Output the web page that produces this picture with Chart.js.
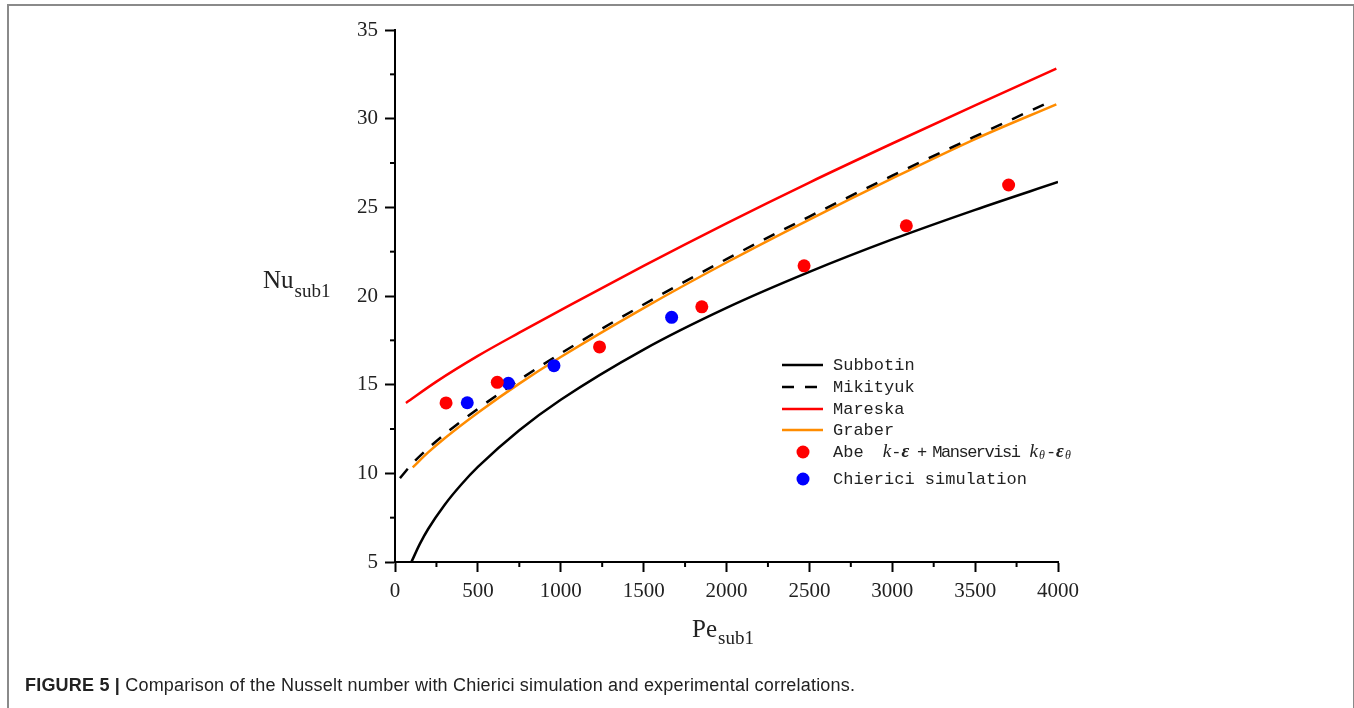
<!DOCTYPE html>
<html>
<head>
<meta charset="utf-8">
<script src="https://cdn.jsdelivr.net/npm/chart.js@4.4.0/dist/chart.umd.min.js"></script>
<style>
  html, body { margin: 0; padding: 0; background: #fff; }
  #wrap { position: relative; width: 1354px; height: 708px; overflow: hidden; }
  #frame { position: absolute; left: 7px; top: 4px; width: 1348px; height: 760px;
           border: 2px solid #8a8a8a; box-sizing: border-box; }
  #nuChart { position: absolute; left: 0; top: 0; }
  #caption { position: absolute; left: 25px; top: 675px; font: 18px "Liberation Sans", Arial, sans-serif;
             letter-spacing: 0.2px; color: #222; white-space: nowrap; }
  #caption b { font-weight: bold; }
</style>
</head>
<body>
<div id="wrap">
  <div id="frame"></div>
  <canvas id="nuChart" width="1354" height="708"></canvas>
  <div id="caption"><b>FIGURE 5 |</b> Comparison of the Nusselt number with Chierici simulation and experimental correlations.</div>
</div>
<script>
// Data (Pe_sub1 -> Nu_sub1)
const peSubbotin = [100, 150, 200, 300, 400, 500, 750, 1000, 1500, 2000, 2500, 3000, 3500, 4000];
const nuSubbotin = [5.02, 6.02, 6.86, 8.23, 9.37, 10.36, 12.43, 14.15, 16.98, 19.33, 21.36, 23.19, 24.86, 26.43];

const peMikityuk = [30, 100, 200, 300, 500, 750, 1000, 1500, 2000, 2500, 3000, 3500, 3960];
const nuMikityuk = [9.73, 10.50, 11.41, 12.21, 13.64, 15.27, 16.76, 19.52, 22.08, 24.48, 26.79, 29.00, 30.99];

const peMareska = [66, 250, 500, 750, 1000, 1500, 2000, 2500, 3000, 3500, 3990];
const nuMareska = [13.97, 15.17, 16.62, 17.93, 19.2, 21.7, 24.1, 26.4, 28.6, 30.75, 32.82];

const peGraber = [107, 200, 300, 500, 750, 1000, 1500, 2000, 2500, 3000, 3500, 3990];
const nuGraber = [10.34, 11.18, 11.98, 13.42, 15.06, 16.56, 19.32, 21.89, 24.31, 26.63, 28.85, 30.81];

const peAbe = [308, 617, 1234, 1851, 2468, 3085, 3702];
const nuAbe = [13.97, 15.13, 17.13, 19.39, 21.70, 23.96, 26.26];

const peChierici = [436, 684, 959, 1669];
const nuChierici = [13.98, 15.08, 16.07, 18.80];

const xTicks = [0, 500, 1000, 1500, 2000, 2500, 3000, 3500, 4000];
const yTicks = [5, 10, 15, 20, 25, 30, 35];

function pairs(xs, ys) {
  return xs.map((x, i) => ({ x: x, y: ys[i] }));
}

// legend label pieces: [text, font, baseline shift, letter spacing, extra gap after]
const MONO = '17px "Liberation Mono", "DejaVu Sans Mono", monospace';
const ITAL = 'italic 19px "Liberation Serif", serif';
const BITAL = 'italic bold 19px "Liberation Serif", serif';
const SUB = 'italic 12px "Liberation Serif", serif';
const legendPieces = {
  Abe: [
    ['Abe ', MONO, 0, 0, 9], ['k', ITAL, 0, 0, 0], ['-', MONO, 0, 0, 0], ['\u03b5', BITAL, 0, 0, 0],
    [' + ', MONO, 0, -2.5, 0], ['Manservisi', MONO, 0, -1.5, 0], [' ', MONO, 0, 0, 0],
    ['k', ITAL, 0, 0, 1], ['\u03b8', SUB, 4, 0, 1], ['-', MONO, 0, 0, 0],
    ['\u03b5', BITAL, 0, 0, 1], ['\u03b8', SUB, 4, 0, 0]
  ]
};

// minor ticks + axis titles + legend
const extras = {
  id: 'extras',
  afterDraw(chart) {
    const ctx = chart.ctx;
    const xs = chart.scales.x, ys = chart.scales.y;
    const area = chart.chartArea;
    ctx.save();
    ctx.strokeStyle = '#000';
    ctx.lineWidth = 2;
    // minor ticks halfway between the labelled ones
    for (let i = 0; i < xTicks.length - 1; i++) {
      const px = xs.getPixelForValue((xTicks[i] + xTicks[i + 1]) / 2);
      ctx.beginPath(); ctx.moveTo(px, area.bottom); ctx.lineTo(px, area.bottom + 5); ctx.stroke();
    }
    for (let i = 0; i < yTicks.length - 1; i++) {
      const py = ys.getPixelForValue((yTicks[i] + yTicks[i + 1]) / 2);
      ctx.beginPath(); ctx.moveTo(area.left, py); ctx.lineTo(area.left - 5, py); ctx.stroke();
    }

    // axis titles with subscripts
    ctx.fillStyle = '#222';
    ctx.textBaseline = 'alphabetic';
    ctx.textAlign = 'left';
    ctx.font = '25px "Liberation Serif", serif';
    const nuW = ctx.measureText('Nu').width;
    ctx.fillText('Nu', 263, 288);
    ctx.font = '19px "Liberation Serif", serif';
    ctx.fillText('sub1', 263 + nuW + 1, 297);

    ctx.font = '25px "Liberation Serif", serif';
    const peW = ctx.measureText('Pe').width;
    ctx.fillText('Pe', 692, 637);
    ctx.font = '19px "Liberation Serif", serif';
    ctx.fillText('sub1', 692 + peW + 1, 644);

    // legend
    const rowY = [365, 387, 409, 430, 452, 479];
    chart.data.datasets.forEach((ds, i) => {
      const y = rowY[i];
      if (ds.showLine) {
        ctx.strokeStyle = ds.borderColor;
        ctx.lineWidth = 2.5;
        ctx.setLineDash(ds.borderDash || []);
        ctx.beginPath(); ctx.moveTo(782, y); ctx.lineTo(823, y); ctx.stroke();
        ctx.setLineDash([]);
      } else {
        ctx.fillStyle = ds.backgroundColor;
        ctx.beginPath(); ctx.arc(803, y, 6.5, 0, Math.PI * 2); ctx.fill();
      }
      ctx.fillStyle = '#222';
      ctx.textBaseline = 'middle';
      const pieces = legendPieces[ds.label] || [[ds.label, MONO, 0, 0, 0]];
      let x = 833;
      pieces.forEach(p => {
        ctx.font = p[1];
        ctx.letterSpacing = p[3] + 'px';
        ctx.fillText(p[0], x, y + p[2]);
        x += ctx.measureText(p[0]).width + p[4];
      });
      ctx.letterSpacing = '0px';
    });
    ctx.restore();
  }
};

const lineStyle = {
  showLine: true, pointRadius: 0, borderWidth: 2.5, fill: false,
  cubicInterpolationMode: 'monotone', order: 2
};

new Chart(document.getElementById('nuChart'), {
  type: 'scatter',
  data: {
    datasets: [
      Object.assign({ label: 'Subbotin', data: pairs(peSubbotin, nuSubbotin), borderColor: '#000000' }, lineStyle),
      Object.assign({ label: 'Mikityuk', data: pairs(peMikityuk, nuMikityuk), borderColor: '#000000', borderDash: [12, 11] }, lineStyle),
      Object.assign({ label: 'Mareska', data: pairs(peMareska, nuMareska), borderColor: '#ff0000' }, lineStyle),
      Object.assign({ label: 'Graber', data: pairs(peGraber, nuGraber), borderColor: '#ff8c00' }, lineStyle),
      { label: 'Abe', data: pairs(peAbe, nuAbe), backgroundColor: '#ff0000', borderWidth: 0,
        pointRadius: 6.5, showLine: false, order: 0 },
      { label: 'Chierici simulation', data: pairs(peChierici, nuChierici), backgroundColor: '#0000ff', borderWidth: 0,
        pointRadius: 6.5, showLine: false, order: 0 }
    ]
  },
  options: {
    responsive: false,
    animation: false,
    events: [],
    layout: { padding: { left: 0, top: 30, right: 296, bottom: 0 } },
    plugins: { legend: { display: false }, tooltip: { enabled: false } },
    scales: {
      x: {
        type: 'linear', min: 0, max: 4000,
        afterFit: s => { s.height = 146; },
        afterBuildTicks: s => { s.ticks = xTicks.map(v => ({ value: v })); },
        ticks: { color: '#222', padding: 7, font: { family: '"Liberation Serif", serif', size: 21 },
                 callback: v => String(v) },
        grid: { drawOnChartArea: false, tickLength: 10, tickWidth: 2, tickColor: '#000' },
        border: { color: '#000', width: 2 }
      },
      y: {
        type: 'linear', min: 5, max: 35,
        afterFit: s => { s.width = 395; },
        afterBuildTicks: s => { s.ticks = yTicks.map(v => ({ value: v })); },
        ticks: { color: '#222', padding: 7, font: { family: '"Liberation Serif", serif', size: 21 },
                 callback: v => String(v) },
        grid: { drawOnChartArea: false, tickLength: 10, tickWidth: 2, tickColor: '#000' },
        border: { color: '#000', width: 2 }
      }
    }
  },
  plugins: [extras]
});
</script>
</body>
</html>
